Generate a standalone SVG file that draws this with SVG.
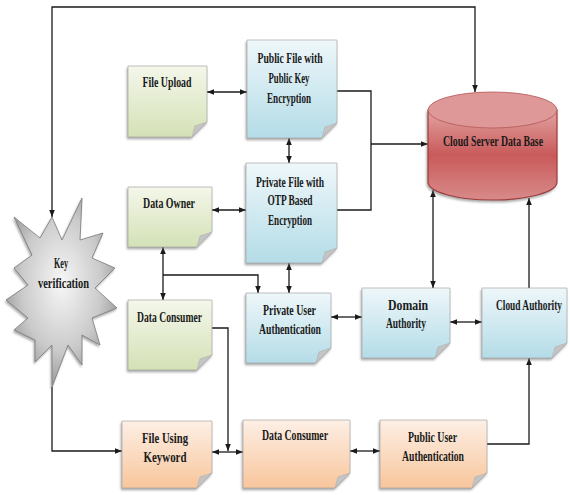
<svg xmlns="http://www.w3.org/2000/svg" width="570" height="495" viewBox="0 0 570 495">
<defs>
<style>
.lbl{font-family:"Liberation Serif","Times New Roman",serif;font-weight:bold;font-size:14px;fill:#1a1a1a;text-anchor:middle}
.node{stroke:#9a9a9a;stroke-width:0.6;filter:url(#sh)}
.fold{fill:#c4c4c4;stroke:#a8a8a8;stroke-width:0.5}
.con{fill:none;stroke:#1a1a1a;stroke-width:1.3}
.g{fill:url(#gGreen)}
.b{fill:url(#gBlue)}
.o{fill:url(#gOrange)}
</style>
<linearGradient id="gGreen" x1="0" y1="0" x2="0" y2="1"><stop offset="0" stop-color="#f4f7ea"/><stop offset="1" stop-color="#d4e1b6"/></linearGradient>
<linearGradient id="gBlue" x1="0" y1="0" x2="0" y2="1"><stop offset="0" stop-color="#eef7fa"/><stop offset="1" stop-color="#b4dce7"/></linearGradient>
<linearGradient id="gOrange" x1="0" y1="0" x2="0" y2="1"><stop offset="0" stop-color="#fdefe5"/><stop offset="1" stop-color="#f8c69c"/></linearGradient>
<linearGradient id="gCyl" x1="0" y1="0" x2="0" y2="1"><stop offset="0" stop-color="#e2a3a2"/><stop offset="0.5" stop-color="#c95a5a"/><stop offset="1" stop-color="#d98a8a"/></linearGradient>
<radialGradient id="gStar" cx="0.5" cy="0.45" r="0.6"><stop offset="0" stop-color="#f7f7f7"/><stop offset="0.6" stop-color="#cacaca"/><stop offset="1" stop-color="#8e8e8e"/></radialGradient>
<filter id="sh" x="-10%" y="-10%" width="130%" height="130%"><feDropShadow dx="-1" dy="2" stdDeviation="1.2" flood-color="#777" flood-opacity="0.6"/></filter>
<marker id="ar" viewBox="0 0 10 10" refX="10" refY="5" markerWidth="8" markerHeight="7" markerUnits="userSpaceOnUse" orient="auto-start-reverse"><path d="M0,1 L10,5 L0,9 Z" fill="#1a1a1a"/></marker>
</defs>
<rect width="570" height="495" fill="#ffffff"/>

<g id="connectors">
<path class="con" d="M52,217 V7 H475 V92" marker-start="url(#ar)" marker-end="url(#ar)"/>
<path class="con" d="M207,92 H247" marker-start="url(#ar)" marker-end="url(#ar)"/>
<path class="con" d="M289,138 V163" marker-start="url(#ar)" marker-end="url(#ar)"/>
<path class="con" d="M212,210 H246" marker-start="url(#ar)" marker-end="url(#ar)"/>
<path class="con" d="M337,91 H371 V210 H337"/>
<path class="con" d="M371,144 H428" marker-end="url(#ar)"/>
<path class="con" d="M289,263 V293" marker-start="url(#ar)" marker-end="url(#ar)"/>
<path class="con" d="M163,247 V300" marker-start="url(#ar)" marker-end="url(#ar)"/>
<path class="con" d="M163,275 H258 V293" marker-end="url(#ar)"/>
<path class="con" d="M331,317 H362" marker-start="url(#ar)" marker-end="url(#ar)"/>
<path class="con" d="M450,322 H482" marker-start="url(#ar)" marker-end="url(#ar)"/>
<path class="con" d="M433,190 V288" marker-start="url(#ar)" marker-end="url(#ar)"/>
<path class="con" d="M529,288 V198" marker-end="url(#ar)"/>
<path class="con" d="M52,387 V451 H122" marker-end="url(#ar)"/>
<path class="con" d="M212,328 H228 V451" marker-end="url(#ar)"/>
<path class="con" d="M212,452 H243" marker-start="url(#ar)" marker-end="url(#ar)"/>
<path class="con" d="M350,451 H380" marker-start="url(#ar)" marker-end="url(#ar)"/>
<path class="con" d="M487,444 H529 V358" marker-end="url(#ar)"/>
</g>

<g id="cloud-server-db">
<path d="M428,110 V182 A64.5,18 0 0 0 557,182 V110 Z" fill="url(#gCyl)" stroke="#9e3a3a" stroke-width="1.2" filter="url(#sh)"/>
<ellipse cx="492.5" cy="110" rx="64.5" ry="18" fill="#dd9897" stroke="#b65656" stroke-width="0.8"/>
<text class="lbl" transform="translate(493,146) scale(0.72,1)" textLength="138.9" lengthAdjust="spacingAndGlyphs" fill="#2a0a0a">Cloud Server Data Base</text>
</g>

<g id="key-verification">
<polygon points="52,217 62,240 82,198 80,240 103,233 92,258 115,268 95,288 117,308 92,318 100,345 82,335 82,365 68,345 52,387 52,345 35,362 35,340 14,330 28,318 6,300 28,285 14,268 32,255 14,217 40,238" fill="url(#gStar)" stroke="#7a7a7a" stroke-width="0.8" filter="url(#sh)"/>
<text class="lbl" transform="translate(61,268) scale(0.72,1)" textLength="19.4" lengthAdjust="spacingAndGlyphs">Key</text>
<text class="lbl" transform="translate(63.5,288) scale(0.72,1)" textLength="70.8" lengthAdjust="spacingAndGlyphs">verification</text>
</g>

<g id="file-upload">
<path class="node g" d="M128,66 H207 V122 L192,137 H128 Z"/>
<polygon class="fold" points="207,122 192,137 195,126"/>
<text class="lbl" transform="translate(167,87) scale(0.72,1)" textLength="68.1" lengthAdjust="spacingAndGlyphs">File Upload</text>
</g>

<g id="public-file">
<path class="node b" d="M247,40 H337 V123 L322,138 H247 Z"/>
<polygon class="fold" points="337,123 322,138 325,127"/>
<text class="lbl" transform="translate(290,63) scale(0.72,1)" textLength="90.3" lengthAdjust="spacingAndGlyphs">Public File with</text>
<text class="lbl" transform="translate(289,83) scale(0.72,1)" textLength="56.9" lengthAdjust="spacingAndGlyphs">Public Key</text>
<text class="lbl" transform="translate(289,103) scale(0.72,1)" textLength="61.1" lengthAdjust="spacingAndGlyphs">Encryption</text>
</g>

<g id="private-file">
<path class="node b" d="M246,163 H337 V248 L322,263 H246 Z"/>
<polygon class="fold" points="337,248 322,263 325,252"/>
<text class="lbl" transform="translate(290,187) scale(0.72,1)" textLength="94.4" lengthAdjust="spacingAndGlyphs">Private File with</text>
<text class="lbl" transform="translate(290,205) scale(0.72,1)" textLength="62.5" lengthAdjust="spacingAndGlyphs">OTP Based</text>
<text class="lbl" transform="translate(290,225) scale(0.72,1)" textLength="61.1" lengthAdjust="spacingAndGlyphs">Encryption</text>
</g>

<g id="data-owner">
<path class="node g" d="M128,187 H212 V232 L197,247 H128 Z"/>
<polygon class="fold" points="212,232 197,247 200,236"/>
<text class="lbl" transform="translate(169,208) scale(0.72,1)" textLength="72.2" lengthAdjust="spacingAndGlyphs">Data Owner</text>
</g>

<g id="data-consumer-1">
<path class="node g" d="M128,300 H212 V355 L197,370 H128 Z"/>
<polygon class="fold" points="212,355 197,370 200,359"/>
<text class="lbl" transform="translate(169.5,322) scale(0.72,1)" textLength="90.3" lengthAdjust="spacingAndGlyphs">Data Consumer</text>
</g>

<g id="private-user-auth">
<path class="node b" d="M246,293 H331 V348 L316,363 H246 Z"/>
<polygon class="fold" points="331,348 316,363 319,352"/>
<text class="lbl" transform="translate(289.5,315) scale(0.72,1)" textLength="73.6" lengthAdjust="spacingAndGlyphs">Private User</text>
<text class="lbl" transform="translate(290,334) scale(0.72,1)" textLength="86.1" lengthAdjust="spacingAndGlyphs">Authentication</text>
</g>

<g id="domain-authority">
<path class="node b" d="M362,288 H450 V343 L435,358 H362 Z"/>
<polygon class="fold" points="450,343 435,358 438,347"/>
<text class="lbl" transform="translate(408,310) scale(0.72,1)" textLength="55.6" lengthAdjust="spacingAndGlyphs">Domain</text>
<text class="lbl" transform="translate(406,328) scale(0.72,1)" textLength="55.6" lengthAdjust="spacingAndGlyphs">Authority</text>
</g>

<g id="cloud-authority">
<path class="node b" d="M482,288 H567 V343 L552,358 H482 Z"/>
<polygon class="fold" points="567,343 552,358 555,347"/>
<text class="lbl" transform="translate(529,310) scale(0.72,1)" textLength="91.7" lengthAdjust="spacingAndGlyphs">Cloud Authority</text>
</g>

<g id="file-using-keyword">
<path class="node o" d="M122,421 H212 V473 L197,488 H122 Z"/>
<polygon class="fold" points="212,473 197,488 200,477"/>
<text class="lbl" transform="translate(165,443) scale(0.72,1)" textLength="63.9" lengthAdjust="spacingAndGlyphs">File Using</text>
<text class="lbl" transform="translate(165,462) scale(0.72,1)" textLength="59.7" lengthAdjust="spacingAndGlyphs">Keyword</text>
</g>

<g id="data-consumer-2">
<path class="node o" d="M243,420 H350 V473 L335,488 H243 Z"/>
<polygon class="fold" points="350,473 335,488 338,477"/>
<text class="lbl" transform="translate(295,440) scale(0.72,1)" textLength="91.7" lengthAdjust="spacingAndGlyphs">Data Consumer</text>
</g>

<g id="public-user-auth">
<path class="node o" d="M380,420 H487 V473 L472,488 H380 Z"/>
<polygon class="fold" points="487,473 472,488 475,477"/>
<text class="lbl" transform="translate(432.5,442) scale(0.72,1)" textLength="68.1" lengthAdjust="spacingAndGlyphs">Public User</text>
<text class="lbl" transform="translate(433,461) scale(0.72,1)" textLength="86.1" lengthAdjust="spacingAndGlyphs">Authentication</text>
</g>
</svg>
